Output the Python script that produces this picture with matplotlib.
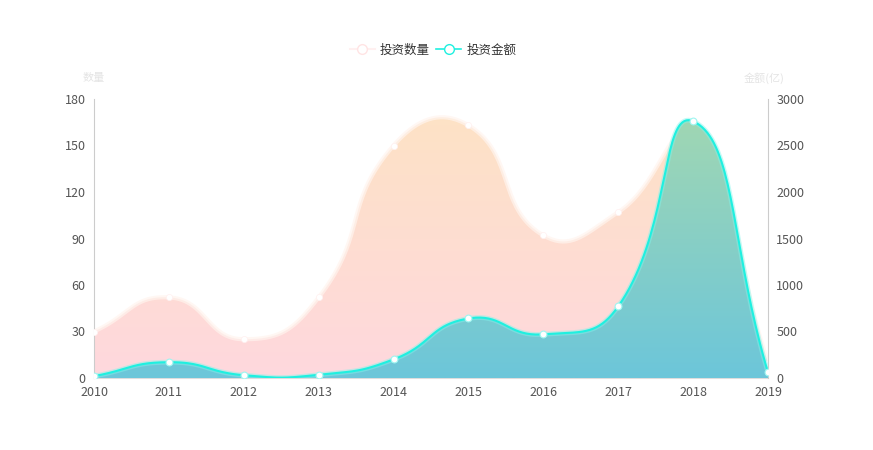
import numpy as np
import matplotlib
matplotlib.use("Agg")
import matplotlib.pyplot as plt
from matplotlib.path import Path
from matplotlib.patches import PathPatch
from matplotlib.colors import LinearSegmentedColormap
from matplotlib.lines import Line2D

plt.rcParams['font.family'] = ['Noto Sans CJK SC', 'DejaVu Sans']

years = ['2010', '2011', '2012', '2013', '2014', '2015', '2016', '2017', '2018', '2019']
count = [30, 52, 25, 52, 150, 163, 92, 107, 155, 10]
amount = [20, 170, 30, 35, 200, 640, 470, 770, 2760, 60]
left_ticks = [0, 30, 60, 90, 120, 150, 180]
right_ticks = [0, 500, 1000, 1500, 2000, 2500, 3000]
legend_names = ['投资数量', '投资金额']
axis_names = ['数量', '金额(亿)']

W, H = 873, 450
fig = plt.figure(figsize=(W / 100, H / 100), dpi=100)
ax = fig.add_axes([94 / W, 1 - 378 / H, (768 - 94) / W, (378 - 99) / H])
ax2 = ax.twinx()

x = np.arange(len(years))


def smooth_curve(xs, ys, ymax, smooth=0.5, n=40):
    # echarts-like bezier smoothing computed in pixel-proportional space
    px = np.asarray(xs, float) * (674 / (len(xs) - 1))
    py = np.asarray(ys, float) / ymax * 279
    pts = np.column_stack([px, py])
    m = len(pts)
    cps = []
    for i in range(m):
        p = pts[i]
        prev = pts[i - 1] if i > 0 else p
        nxt = pts[i + 1] if i < m - 1 else p
        v = nxt - prev
        d0 = np.linalg.norm(p - prev)
        d1 = np.linalg.norm(nxt - p)
        s = d0 + d1
        if s == 0:
            cps.append((p, p))
            continue
        c0 = p - v * smooth * d0 / s
        c1 = p + v * smooth * d1 / s
        cps.append((c0, c1))
    out = [pts[0]]
    t = np.linspace(0, 1, n)[1:, None]
    for i in range(m - 1):
        p0 = pts[i]
        p1 = cps[i][1]
        p2 = cps[i + 1][0]
        p3 = pts[i + 1]
        seg = ((1 - t) ** 3) * p0 + 3 * ((1 - t) ** 2) * t * p1 + 3 * (1 - t) * t ** 2 * p2 + t ** 3 * p3
        out.extend(seg)
    out = np.array(out)
    return out[:, 0] * (len(xs) - 1) / 674, out[:, 1] * ymax / 279


def gradient_fill(axis, cx, cy, ymax, c_top, c_bot, z):
    verts = [(cx[0], 0)] + list(zip(cx, cy)) + [(cx[-1], 0), (cx[0], 0)]
    patch = PathPatch(Path(verts), facecolor='none', edgecolor='none')
    axis.add_patch(patch)
    cmap = LinearSegmentedColormap.from_list('g', [c_bot, c_top])
    grad = np.linspace(0, 1, 256).reshape(-1, 1)
    im = axis.imshow(grad, cmap=cmap, aspect='auto', origin='lower',
                     extent=[cx[0], cx[-1], 0, ymax], zorder=z, interpolation='bilinear')
    im.set_clip_path(patch)


cx1, cy1 = smooth_curve(x, count, 180)
cx2, cy2 = smooth_curve(x, amount, 3000)

# count series (left axis)
gradient_fill(ax, cx1, cy1, 180, '#fde3c4', '#ffd8de', 1)
ax.plot(cx1, cy1, color='#fff4ee', lw=3, alpha=0.7, zorder=2)
ax.scatter(x, count, s=20, color='white', edgecolor='#fff0f0', linewidth=0.5, zorder=3)

# amount series (right axis)
gradient_fill(ax2, cx2, cy2, 3000, '#a4d8b0', '#6cc6da', 4)
ax2.plot(cx2, cy2, color='#7ff5ec', lw=3.5, alpha=0.45, zorder=5)
ax2.plot(cx2, cy2, color='#1ff0e0', lw=1.5, zorder=5)
ax2.scatter(x, amount, s=24, color='white', edgecolor='#9ff5f0', linewidth=0.8, zorder=6)

for a, ymax, ticks in [(ax, 180, left_ticks), (ax2, 3000, right_ticks)]:
    a.set_ylim(0, ymax)
    a.set_yticks(ticks)
    a.set_xlim(0, len(years) - 1)
    for s in a.spines.values():
        s.set_visible(False)
    a.tick_params(axis='y', length=0, labelsize=9, labelcolor='#555555', pad=6)

ax.spines['left'].set_visible(True)
ax.spines['left'].set_color('#cccccc')
ax2.spines['right'].set_visible(True)
ax2.spines['right'].set_color('#cccccc')
ax.spines['bottom'].set_visible(True)
ax.spines['bottom'].set_color('#dddddd')
ax.set_xticks(x)
ax.set_xticklabels(years)
ax.tick_params(axis='x', length=0, labelsize=9, labelcolor='#555555', pad=6)
ax.set_zorder(0)
ax2.set_zorder(1)
ax.patch.set_visible(False)
ax2.patch.set_visible(False)

fig.text(94 / W, 1 - 78 / H, axis_names[0], ha='center', va='center', fontsize=8, color='#e4e4e4')
fig.text(768 / W - 0.005, 1 - 78 / H, axis_names[1], ha='center', va='center', fontsize=8, color='#e4e4e4')

h1 = Line2D([], [], color='#fff0f0', lw=1.5, marker='o', markersize=7,
            markerfacecolor='white', markeredgecolor='#ffe4e4')
h2 = Line2D([], [], color='#1ff0e0', lw=1.2, marker='o', markersize=7,
            markerfacecolor='white', markeredgecolor='#1ff0e0')
fig.legend([h1, h2], legend_names, loc='center', bbox_to_anchor=(433 / W, 1 - 50 / H),
           ncol=2, frameon=False, fontsize=9, handlelength=2.0, handletextpad=0.4,
           columnspacing=0.5, labelcolor='#333333')

fig.savefig('out.png', dpi=100)
